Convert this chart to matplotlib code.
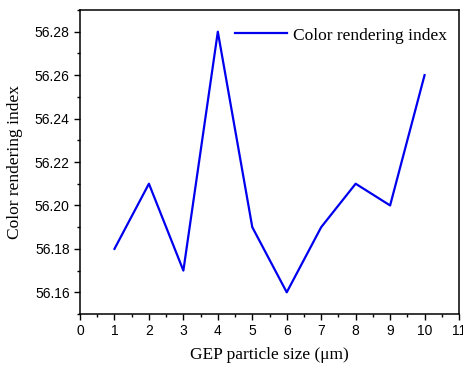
import matplotlib
matplotlib.use('Agg')
import matplotlib.pyplot as plt
from matplotlib.ticker import MultipleLocator

sizes = [1, 2, 3, 4, 5, 6, 7, 8, 9, 10]
cri = [56.18, 56.21, 56.17, 56.28, 56.19, 56.16, 56.19, 56.21, 56.20, 56.26]

fig = plt.figure(figsize=(4.63, 3.66), dpi=100)
ax = fig.add_axes([0.1728, 0.142, 0.8186, 0.8307])

ax.plot(sizes, cri, color='#0000ee', lw=1.6, label='Color rendering index')

ax.set_xlim(0, 11)
ax.set_ylim(56.15, 56.29)
ax.xaxis.set_major_locator(MultipleLocator(1))
ax.xaxis.set_minor_locator(MultipleLocator(0.5))
ax.yaxis.set_major_locator(MultipleLocator(0.02))
ax.yaxis.set_minor_locator(MultipleLocator(0.01))
ax.yaxis.set_major_formatter(matplotlib.ticker.FormatStrFormatter('%.2f'))
ax.tick_params(which='both', direction='out', width=1, labelsize=10)
ax.tick_params(which='major', length=4)
ax.tick_params(which='minor', length=2.5)
for lab in ax.get_xticklabels() + ax.get_yticklabels():
    lab.set_fontfamily('Liberation Sans')
for s in ax.spines.values():
    s.set_linewidth(1.1)

ax.set_xlabel('GEP particle size (\u03bcm)', family='Liberation Serif', fontsize=12.5, labelpad=6)
ax.set_ylabel('Color rendering index', family='Liberation Serif', fontsize=12.5, labelpad=8)

ax.legend(loc='upper right', bbox_to_anchor=(1.013, 1.0), frameon=False,
          handlelength=3.0, handletextpad=0.3, borderaxespad=0.6,
          prop={'family': 'Liberation Serif', 'size': 12.5})

fig.savefig('out.png', dpi=100)
